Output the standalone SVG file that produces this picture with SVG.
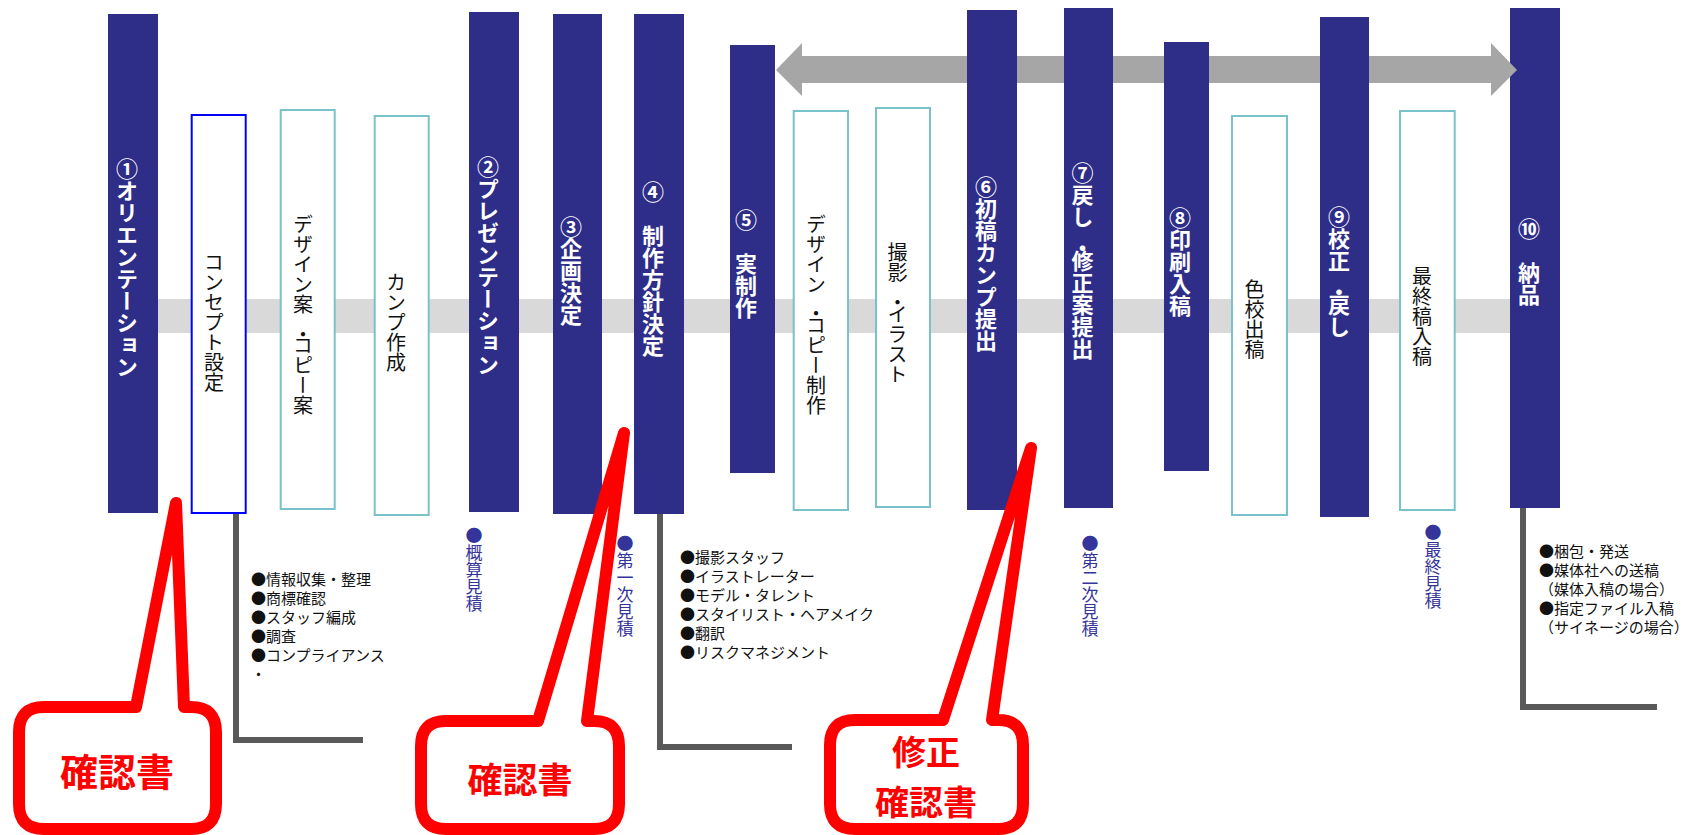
<svg xmlns="http://www.w3.org/2000/svg" width="1692" height="835" viewBox="0 0 1692 835">
<style>
.bar{fill:#2E2D88}
.box{fill:#fff;stroke:#79C2C9;stroke-width:2}
.box2{fill:#fff;stroke:#0000FF;stroke-width:2}
.vb{font-family:"Noto Sans CJK JP",sans-serif;font-size:22px;font-weight:700;fill:#fff;writing-mode:vertical-rl}
.vt{font-family:"Noto Sans CJK JP",sans-serif;font-size:20px;fill:#111;writing-mode:vertical-rl}
.est{font-family:"Noto Sans CJK JP",sans-serif;font-size:17px;fill:#34349A;writing-mode:vertical-rl}
.list{font-family:"Noto Sans CJK JP",sans-serif;font-size:15px;fill:#111}
.conn{fill:none;stroke:#595959;stroke-width:6}
.callout{fill:#fff;stroke:#FF0000;stroke-width:12;stroke-linejoin:round}
.ct{font-family:"Noto Sans CJK JP",sans-serif;font-weight:700;fill:#FF0000;text-anchor:middle;dominant-baseline:central}
</style>
<rect id="band" x="108" y="299" width="1402" height="34" fill="#D9D9D9"/>

<g id="n1"><rect class="bar" x="108" y="14" width="50" height="499"/><text class="vb" x="127" y="158">①オリエンテーション</text></g>
<g id="b1"><rect class="box2" x="191.7" y="115" width="54" height="398"/><text class="vt" x="214" y="252">コンセプト設定</text></g>
<g id="b2"><rect class="box" x="280.7" y="110" width="54" height="399"/><text class="vt" x="303" y="214">デザイン案</text><text class="vt" x="303" y="324">・</text><text class="vt" x="303" y="335">コピー案</text></g>
<g id="b3"><rect class="box" x="374.7" y="116" width="54" height="399"/><text class="vt" x="396" y="272">カンプ作成</text></g>
<g id="n2"><rect class="bar" x="469" y="12" width="50" height="500"/><text class="vb" x="488" y="156">②プレゼンテーション</text></g>
<g id="n3"><rect class="bar" x="553" y="14" width="49" height="500"/><text class="vb" x="571" y="216">③企画決定</text></g>
<g id="n4"><rect class="bar" x="634" y="14" width="50" height="500"/><text class="vb" x="653" y="181">④　制作方針決定</text></g>
<g id="n5"><rect class="bar" x="730" y="45" width="45" height="428"/><text class="vb" x="746" y="209">⑤　実制作</text></g>
<g id="b4"><rect class="box" x="793.7" y="111" width="54.3" height="399"/><text class="vt" x="816" y="214">デザイン</text><text class="vt" x="816" y="303">・</text><text class="vt" x="816" y="315">コピー制作</text></g>
<g id="b5"><rect class="box" x="876" y="108" width="54" height="399"/><text class="vt" x="897.5" y="242">撮影</text><text class="vt" x="897.5" y="292">・</text><text class="vt" x="897.5" y="304">イラスト</text></g>
<g id="b6"><rect class="box" x="1232" y="116" width="55" height="399"/><text class="vt" x="1254.5" y="279">色校出稿</text></g>
<g id="b7"><rect class="box" x="1400" y="111" width="54.7" height="399"/><text class="vt" x="1422" y="266">最終稿入稿</text></g>
<g id="n10"><rect class="bar" x="1510" y="8" width="50" height="500"/><text class="vb" x="1529" y="218">⑩　納品</text></g>

<g id="arrow"><polygon points="776,70 802,43 802,56 1491,56 1491,43 1517,70 1491,96 1491,83 802,83 802,96" fill="#A6A6A6"/></g>

<g id="n6"><rect class="bar" x="967" y="10" width="50" height="500"/><text class="vb" x="986" y="176">⑥初稿カンプ提出</text></g>
<g id="n7"><rect class="bar" x="1064" y="8" width="49" height="500"/><text class="vb" x="1082.5" y="162">⑦戻し</text><text class="vb" x="1082.5" y="237">・</text><text class="vb" x="1082.5" y="250">修正案提出</text></g>
<g id="n8"><rect class="bar" x="1164" y="42" width="45" height="429"/><text class="vb" x="1180" y="207">⑧印刷入稿</text></g>
<g id="n9"><rect class="bar" x="1320" y="17" width="49" height="500"/><text class="vb" x="1339" y="206">⑨校正</text><text class="vb" x="1339" y="281">・</text><text class="vb" x="1339" y="294">戻し</text></g>

<g id="connectors">
<polyline class="conn" points="236,514 236,740 363,740"/>
<polyline class="conn" points="660,514 660,747 792,747"/>
<polyline class="conn" points="1523,508 1523,707 1657,707"/>
</g>

<g id="estimates">
<text class="est" x="474" y="527">●概算見積</text>
<text class="est" x="625" y="535">●第一次見積</text>
<text class="est" x="1090" y="535">●第二次見積</text>
<text class="est" x="1433" y="524">●最終見積</text>
</g>

<g id="list1" class="list">
<text x="251" y="585">●情報収集・整理</text>
<text x="251" y="604">●商標確認</text>
<text x="251" y="623">●スタッフ編成</text>
<text x="251" y="642">●調査</text>
<text x="251" y="661">●コンプライアンス</text>
<text x="251" y="680">・</text>
</g>
<g id="list2" class="list">
<text x="680" y="563">●撮影スタッフ</text>
<text x="680" y="582">●イラストレーター</text>
<text x="680" y="601">●モデル・タレント</text>
<text x="680" y="620">●スタイリスト・ヘアメイク</text>
<text x="680" y="639">●翻訳</text>
<text x="680" y="658">●リスクマネジメント</text>
</g>
<g id="list3" class="list">
<text x="1539" y="557">●梱包・発送</text>
<text x="1539" y="576">●媒体社への送稿</text>
<text x="1539" y="595">（媒体入稿の場合）</text>
<text x="1539" y="614">●指定ファイル入稿</text>
<text x="1539" y="633">（サイネージの場合）</text>
</g>

<g id="callout1">
<path class="callout" d="M44,707 L136,707 L176,503 L184,707 L191,707 Q216,707 216,732 L216,804 Q216,829 191,829 L44,829 Q19,829 19,804 L19,732 Q19,707 44,707 Z"/>
<text class="ct" x="117" y="769" font-size="38">確認書</text>
</g>
<g id="callout2">
<path class="callout" d="M446,721 L538,721 L624,433 L587,721 L594,721 Q619,721 619,746 L619,804 Q619,829 594,829 L446,829 Q421,829 421,804 L421,746 Q421,721 446,721 Z"/>
<text class="ct" x="520" y="777" font-size="35">確認書</text>
</g>
<g id="callout3">
<path class="callout" d="M855,720 L943,720 L1031,448 L992,720 L998,720 Q1023,720 1023,745 L1023,804 Q1023,829 998,829 L855,829 Q830,829 830,804 L830,745 Q830,720 855,720 Z"/>
<text class="ct" font-size="34"><tspan x="926" y="750">修正</tspan><tspan x="926" y="800">確認書</tspan></text>
</g>
</svg>
